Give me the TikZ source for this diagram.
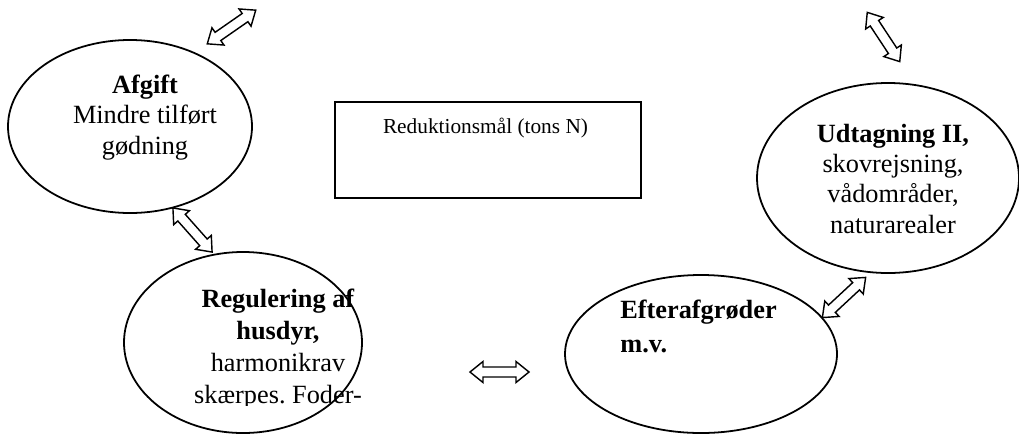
\documentclass[tikz,border=0pt]{standalone}
\usepackage{fontspec}
\setmainfont{Liberation Serif}
\usetikzlibrary{shapes.geometric}
\newdimen\pxu
\pxu=0.5626pt
\newcommand{\bubblefont}{\fontsize{14.8}{17}\selectfont}
\newcommand{\boxfont}{\fontsize{12}{14}\selectfont}
\frenchspacing

\tikzset{
  pics/dblarrow/.style={code={
    \draw[arrowline] (-29.5,0) -- (-16.5,10.5) -- (-16.5,5) -- (16.5,5) -- (16.5,10.5)
      -- (29.5,0) -- (16.5,-10.5) -- (16.5,-5) -- (-16.5,-5) -- (-16.5,-10.5) -- cycle;
  }}
}

\begin{document}
\begin{tikzpicture}[x=0.5626pt,y=-0.5626pt]
    \tikzstyle{bubble}=[draw,ellipse,line width=1pt,inner sep=0pt];
    \tikzstyle{bubbletext}=[font=\bubblefont,align=center,inner sep=0pt,anchor=base];
    \tikzstyle{arrowline}=[fill=white,line width=0.8pt,line join=miter];

    \useasboundingbox (0,0) rectangle (1019,434);
    \clip (0,0) rectangle (1019,434);

    % bubbles
    \node[bubble,minimum width=244\pxu,minimum height=173\pxu] (afgift) at (130,126.5) {};
    \node[bubble,minimum width=238\pxu,minimum height=181\pxu] (reg) at (243,342.5) {};
    \node[bubble,minimum width=272\pxu,minimum height=158\pxu] (efter) at (701,354) {};
    \node[bubble,minimum width=262\pxu,minimum height=190\pxu] (udt) at (888,178) {};
    \node[draw,line width=1.1pt,inner sep=0pt,minimum width=306\pxu,minimum height=96\pxu] (maal) at (488,150) {};

    % texts (base = baseline of the last line)
    \node[bubbletext] (afgifttxt) at (145,154) {\textbf{Afgift}\\Mindre tilført\\gødning};
    \node[font=\boxfont,inner sep=0pt,anchor=base] (maaltxt) at (485.5,133) {Reduktionsmål (tons N)};
    \node[bubbletext] (udttxt) at (893,233) {\textbf{Udtagning II,}\\skovrejsning,\\vådområder,\\naturarealer};
    \begin{scope}
      \clip (124,250) rectangle (362,405);
      \node[bubbletext,font=\bubblefont\linespread{1.05}\selectfont] (regtxt) at (278,403) {\textbf{Regulering af}\\\textbf{husdyr,}\\harmonikrav\\skærpes. Foder-};
    \end{scope}
    \node[bubbletext,align=left,anchor=base west,font=\bubblefont\linespread{1.1}\selectfont] (eftertxt) at (620,352) {\textbf{Efterafgrøder}\\\textbf{m.v.}};

    % block arrows
    \pic[rotate=34.8] (arr1) at (231.5,27) {dblarrow};
    \pic[rotate=123.4] (arr2) at (883.5,37) {dblarrow};
    \pic[rotate=131.6] (arr3) at (192.5,230) {dblarrow};
    \pic (arr4) at (499.5,372) {dblarrow};
    \pic[rotate=42.9] (arr5) at (844,297.5) {dblarrow};
\end{tikzpicture}
\end{document}
